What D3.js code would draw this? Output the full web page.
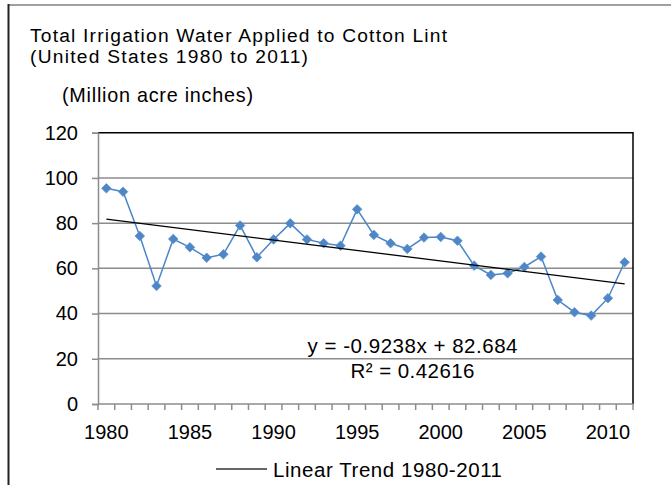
<!DOCTYPE html>
<html>
<head>
<meta charset="utf-8">
<script src="https://cdn.jsdelivr.net/npm/d3@7"></script>
<style>
  body { margin: 0; background: #fff; }
  svg { display: block; font-family: "Liberation Sans", Arial, sans-serif; }
</style>
</head>
<body>
<svg width="671" height="485"></svg>
<script>
const years = d3.range(1980, 2012)
const water = [95.4, 93.9, 74.3, 52.2, 73.0, 69.3, 64.7, 66.2, 79.0, 64.9,
               72.8, 79.9, 72.8, 71.1, 70.0, 86.1, 74.8, 71.1, 68.6, 73.6,
               73.9, 72.2, 61.2, 57.1, 57.8, 60.6, 65.2, 46.0, 40.6, 39.1,
               46.8, 62.7]
const yTicks = [0, 20, 40, 60, 80, 100, 120]
const xLabels = [1980, 1985, 1990, 1995, 2000, 2005, 2010]
const trend = {slope: -0.9238, intercept: 82.684, r2: "0.42616"}

const svg = d3.select("svg")

// chart frame
svg.append("line").attr("x1", 8).attr("x2", 671).attr("y1", 5).attr("y2", 5)
  .attr("stroke", "#a0a0a0").attr("stroke-width", 2)
svg.append("line").attr("x1", 8.5).attr("x2", 8.5).attr("y1", 4).attr("y2", 485)
  .attr("stroke", "#222").attr("stroke-width", 2)

const plot = {left: 98, right: 633, top: 132.7, bottom: 404}

const x = d3.scaleBand().domain(years).range([plot.left, plot.right])
const y = d3.scaleLinear().domain([0, 120]).range([plot.bottom, plot.top])
const cx = d => x(d) + x.bandwidth() / 2

// gridlines
svg.append("g").selectAll("line").data(yTicks.filter(d => d > 0 && d < 120)).join("line")
  .attr("x1", plot.left).attr("x2", plot.right)
  .attr("y1", d => y(d)).attr("y2", d => y(d))
  .attr("stroke", "#8c8c8c").attr("stroke-width", 1.5)

// plot border (top, right)
svg.append("path")
  .attr("d", `M${plot.left},${plot.top}H${plot.right}V${plot.bottom}`)
  .attr("fill", "none").attr("stroke", "#000").attr("stroke-width", 1.5)

// y axis
const yAxis = svg.append("g").attr("transform", `translate(${plot.left},0)`)
  .call(d3.axisLeft(y).tickValues(yTicks).tickSize(6).tickPadding(14))
yAxis.select(".domain").attr("stroke", "#8c8c8c").attr("stroke-width", 1.5)
yAxis.selectAll(".tick line").attr("stroke", "#8c8c8c").attr("stroke-width", 1.5)
yAxis.selectAll("text").attr("font-size", 20).attr("fill", "#000")
  .attr("font-family", "Liberation Sans, Arial, sans-serif")

// x axis: category boundaries as ticks
const xb = svg.append("g")
xb.append("line").attr("x1", plot.left).attr("x2", plot.right)
  .attr("y1", plot.bottom).attr("y2", plot.bottom)
  .attr("stroke", "#8c8c8c").attr("stroke-width", 1.5)
xb.selectAll("line.tk").data(d3.range(years.length + 1)).join("line")
  .attr("class", "tk")
  .attr("x1", i => plot.left + i * x.step()).attr("x2", i => plot.left + i * x.step())
  .attr("y1", plot.bottom).attr("y2", plot.bottom + 6)
  .attr("stroke", "#8c8c8c").attr("stroke-width", 1.5)
xb.selectAll("text").data(xLabels).join("text")
  .attr("x", d => cx(d)).attr("y", 439)
  .attr("text-anchor", "middle").attr("font-size", 20)
  .text(d => d)

// series line and markers
svg.append("path").datum(years.map((yr, i) => [yr, water[i]]))
  .attr("fill", "none").attr("stroke", "#4a86c8").attr("stroke-width", 1.5)
  .attr("d", d3.line().x(d => cx(d[0])).y(d => y(d[1])))

svg.append("g").selectAll("path").data(years.map((yr, i) => [yr, water[i]])).join("path")
  .attr("d", d3.symbol(d3.symbolDiamond2, 58))
  .attr("transform", d => `translate(${cx(d[0])},${y(d[1])})`)
  .attr("fill", "#4f86c6").attr("stroke", "#5b92cf").attr("stroke-width", 0.8)

// linear trend
const first = years[0], last = years[years.length - 1]
svg.append("line")
  .attr("x1", cx(first)).attr("y1", y(trend.intercept + trend.slope * 1))
  .attr("x2", cx(last)).attr("y2", y(trend.intercept + trend.slope * years.length))
  .attr("stroke", "#000").attr("stroke-width", 1.3)

// equation
svg.append("text").attr("x", 412.5).attr("y", 353).attr("text-anchor", "middle")
  .attr("font-size", 20.5)
  .attr("textLength", 210).attr("lengthAdjust", "spacing")
  .text(`y = ${trend.slope}x + ${trend.intercept}`)
svg.append("text").attr("x", 412.5).attr("y", 378).attr("text-anchor", "middle")
  .attr("font-size", 20.5)
  .attr("textLength", 124).attr("lengthAdjust", "spacing")
  .text(`R² = ${trend.r2}`)

// titles
svg.append("text").attr("x", 30).attr("y", 41.7).attr("font-size", 19.2)
  .attr("textLength", 417).attr("lengthAdjust", "spacing")
  .text("Total Irrigation Water Applied to Cotton Lint")
svg.append("text").attr("x", 30).attr("y", 63.3).attr("font-size", 19.2)
  .attr("textLength", 278).attr("lengthAdjust", "spacing")
  .text("(United States 1980 to 2011)")
svg.append("text").attr("x", 62).attr("y", 102).attr("font-size", 19.8)
  .attr("textLength", 191).attr("lengthAdjust", "spacing")
  .text("(Million acre inches)")

// legend
svg.append("line").attr("x1", 216).attr("x2", 267).attr("y1", 469).attr("y2", 469)
  .attr("stroke", "#333").attr("stroke-width", 1.5)
svg.append("text").attr("x", 273).attr("y", 477).attr("font-size", 20.5)
  .attr("textLength", 229).attr("lengthAdjust", "spacing")
  .text("Linear Trend 1980-2011")
</script>
</body>
</html>
